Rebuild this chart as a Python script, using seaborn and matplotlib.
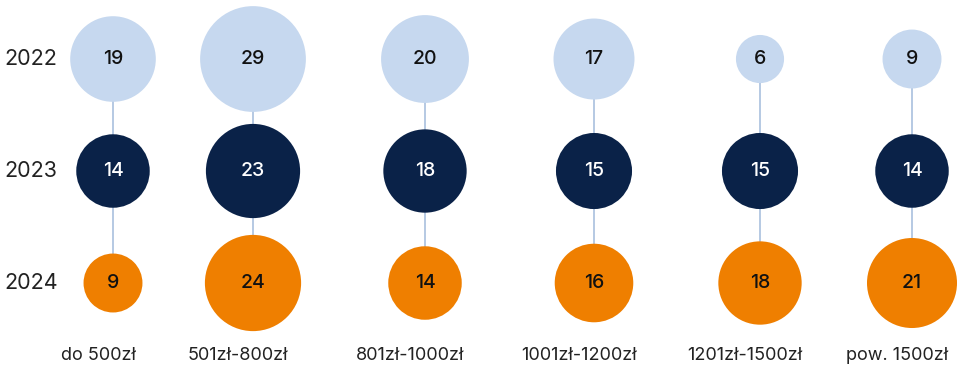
import matplotlib
matplotlib.use("Agg")
import matplotlib.pyplot as plt
import seaborn as sns
import pandas as pd

# Price brackets and yearly values
categories = ["do 500zł", "501zł-800zł", "801zł-1000zł", "1001zł-1200zł", "1201zł-1500zł", "pow. 1500zł"]
years = ["2022", "2023", "2024"]
values_2022 = [19, 29, 20, 17, 6, 9]
values_2023 = [14, 23, 18, 15, 15, 14]
values_2024 = [9, 24, 14, 16, 18, 21]

# Layout: column centres on a 962-unit wide canvas, rows evenly spaced
col_x = [113, 253, 425, 594, 760, 912]
year_colors = {"2022": "#c6d8ef", "2023": "#0a2248", "2024": "#ef7f00"}
text_colors = {"2022": "#111111", "2023": "#ffffff", "2024": "#111111"}
line_color = "#a9c0de"

sns.set_theme(style="white")
plt.rcParams["font.family"] = ["Inter", "DejaVu Sans"]

rows = []
for yi, (yr, vals) in enumerate(zip(years, [values_2022, values_2023, values_2024])):
    for cat, x, v in zip(categories, col_x, vals):
        rows.append({"category": cat, "year": yr, "row": yi, "x": x, "value": v})
df = pd.DataFrame(rows)

fig = plt.figure(figsize=(9.62, 3.66), dpi=100)
ax = fig.add_axes([0, 0, 1, 1])

# Connector lines behind the bubbles
for cat, g in df.groupby("category", sort=False):
    g = g.sort_values("row")
    ax.plot(g["x"], g["row"], color=line_color, lw=1.2, zorder=1)

sns.scatterplot(
    data=df, x="x", y="row", hue="year", palette=year_colors,
    size="value", sizes=(0, 200 * 30), size_norm=(0, 30),
    linewidth=0, alpha=1, legend=False, ax=ax, zorder=2,
)
ax.set_xlim(0, 962)
ax.set_ylim(2.741, -0.527)
ax.axis("off")

# Value labels inside bubbles
for _, r in df.iterrows():
    ax.text(r["x"], r["row"], str(r["value"]), ha="center", va="center",
            fontsize=14, fontweight="medium", color=text_colors[r["year"]], zorder=3)

# Year labels on the left
for yi, yr in enumerate(years):
    ax.text(31, yi, yr, ha="center", va="center", fontsize=15.5, color="#222222")

# Price bracket labels under each column
for cat, x in zip(categories, col_x):
    ax.text(x - 15, 2.643, cat, ha="center", va="center", fontsize=13, color="#222222")

fig.savefig("out.png", dpi=100)
